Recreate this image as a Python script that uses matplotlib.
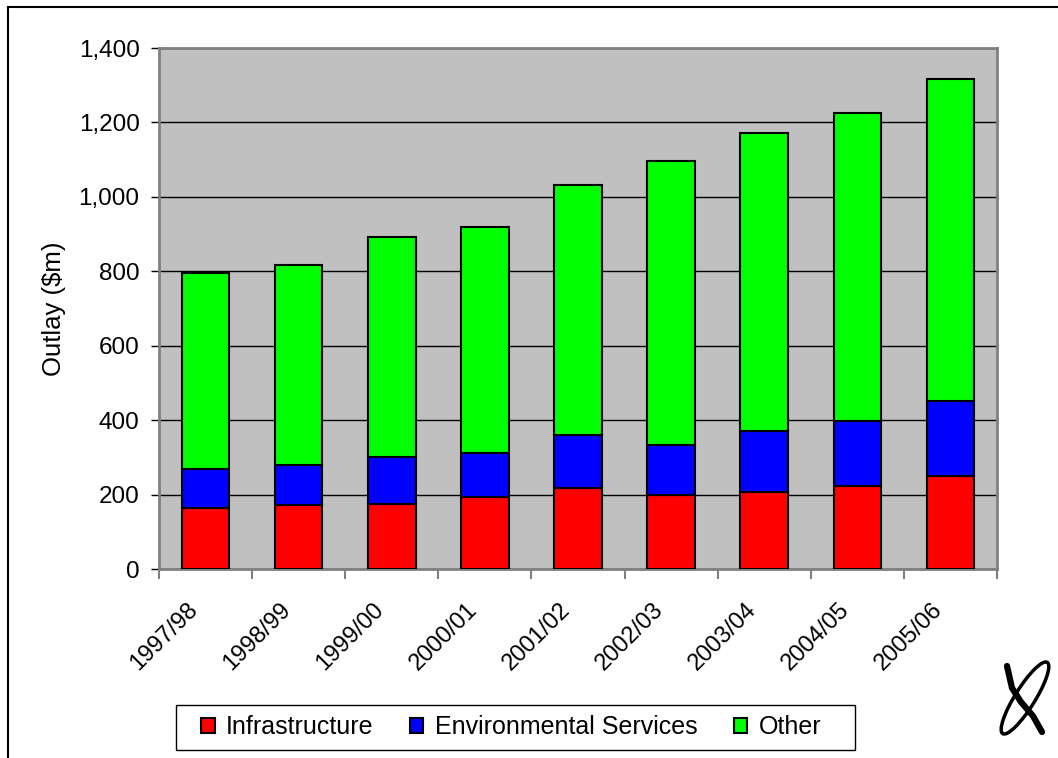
import matplotlib.pyplot as plt
import numpy as np
from matplotlib.patches import Arc, Rectangle
from matplotlib.lines import Line2D
from matplotlib.ticker import FuncFormatter, MultipleLocator
from matplotlib.transforms import ScaledTranslation

plt.rcParams['font.family'] = ['Liberation Sans', 'DejaVu Sans']

years = ["1997/98", "1998/99", "1999/00", "2000/01", "2001/02",
         "2002/03", "2003/04", "2004/05", "2005/06"]
infrastructure = [165, 171, 176, 194, 219, 198, 207, 224, 251]
environmental = [103, 108, 124, 117, 140, 134, 163, 173, 200]
other = [527, 538, 592, 608, 673, 764, 802, 828, 866]

series_names = ["Infrastructure", "Environmental Services", "Other"]
series_colors = ["#FF0000", "#0000FF", "#00FF00"]

W, H = 1058, 758
fig = plt.figure(figsize=(W / 100, H / 100), dpi=100)
ax = fig.add_axes([159 / W, 1 - 569 / H, 838 / W, 521 / H])
ax.set_facecolor("#C0C0C0")

x = np.arange(len(years))
bottom = np.zeros(len(years))
for vals, name, col in zip([infrastructure, environmental, other], series_names, series_colors):
    ax.bar(x, vals, width=0.51, bottom=bottom, color=col, edgecolor="black",
           linewidth=1.5, label=name, zorder=3)
    bottom += np.array(vals)

ax.set_xlim(-0.5, len(years) - 0.5)
ax.set_ylim(0, 1400)
ax.yaxis.set_major_locator(MultipleLocator(200))
ax.yaxis.set_major_formatter(FuncFormatter(lambda v, p: f"{int(v):,}"))
ax.grid(axis="y", color="black", linewidth=1, zorder=1)

ax.set_xticks(x)
ax.set_xticklabels(years, rotation=45, ha="right", rotation_mode="anchor", fontsize=17)
ax.tick_params(axis="x", length=0, pad=21)
shift = ScaledTranslation(-0.19, 0, fig.dpi_scale_trans)
for lab in ax.get_xticklabels():
    lab.set_transform(lab.get_transform() + shift)
# tick marks between categories
ax.set_xticks(np.arange(-0.5, len(years)), minor=True)
ax.tick_params(axis="x", which="minor", length=7, color="#808080", width=1.5)
ax.tick_params(axis="y", labelsize=17.5, length=6, color="black", width=1, pad=8)

for s in ["left", "bottom", "right", "top"]:
    ax.spines[s].set_color("#808080")
    ax.spines[s].set_linewidth(2)

ax.set_ylabel("Outlay ($m)", fontsize=18.5, labelpad=9)

# legend: entries without frame, box drawn separately
leg = fig.legend(loc="center", bbox_to_anchor=(511 / W, 1 - 727.5 / H),
                 ncol=3, fontsize=18, frameon=False,
                 handlelength=0.55, handleheight=0.55, handletextpad=0.45,
                 borderaxespad=0, columnspacing=1.45, borderpad=0)
fig.add_artist(Rectangle((176 / W, 1 - 750 / H), 679 / W, 45 / H, transform=fig.transFigure,
                         facecolor="none", edgecolor="black", lw=1))

# outer frame (left and top only)
fig.add_artist(Line2D([8 / W, 8 / W], [0, 1 - 7 / H], color="black", lw=1.5,
                      transform=fig.transFigure))
fig.add_artist(Line2D([8 / W, 1], [1 - 7 / H, 1 - 7 / H], color="black", lw=1.5,
                      transform=fig.transFigure))

# small logo bottom right
lax = fig.add_axes([995 / W, 1 - 738 / H, 56 / W, 80 / H])
lax.set_xlim(0, 56)
lax.set_ylim(0, 80)
lax.axis("off")
lax.add_patch(Arc((30, 40), 20, 84, angle=-32, theta1=0, theta2=360, lw=2.5, color="black"))
lax.plot([12, 17, 26, 38, 47], [72, 50, 36, 22, 6], color="black", lw=4.5, solid_capstyle="round")

fig.savefig("out.png", dpi=100)
